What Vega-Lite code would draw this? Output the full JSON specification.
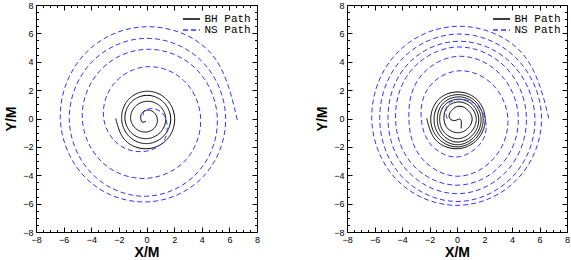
{
  "$schema": "https://vega.github.io/schema/vega-lite/v6.json",
  "padding": {"left": 4, "top": 0, "right": 0, "bottom": 0},
  "config": {
    "view": {"stroke": "#000000", "strokeWidth": 1},
    "axis": {"grid": false, "domain": false, "tickColor": "#000000", "tickWidth": 1, "labelColor": "#000000", "titleColor": "#000000", "labelFont": "Liberation Sans", "labelFontSize": 9, "titleFont": "Liberation Sans", "titleFontSize": 14, "titleFontWeight": "bold", "labelFlush": false, "labelOverlap": false, "labelBound": false},
    "legend": {"labelFont": "Liberation Mono", "labelFontSize": 11, "labelColor": "#000000"}
  },
  "datasets": {
    "lns": [
      {"i":0,"x":6.57,"y":-0.1},{"i":1,"x":4.63,"y":4.63},{"i":2,"x":0,"y":6.47},{"i":3,"x":-4.51,"y":4.51},
      {"i":4,"x":-6.24,"y":0},{"i":5,"x":-4.29,"y":-4.29},{"i":6,"x":0,"y":-5.88},{"i":7,"x":4.1,"y":-4.1},
      {"i":8,"x":5.73,"y":0},{"i":9,"x":4.02,"y":4.02},{"i":10,"x":0,"y":5.65},{"i":11,"x":-3.97,"y":3.97},
      {"i":12,"x":-5.59,"y":0},{"i":13,"x":-3.92,"y":-3.92},{"i":14,"x":0,"y":-5.48},{"i":15,"x":3.75,"y":-3.75},
      {"i":16,"x":5.13,"y":0},{"i":17,"x":3.54,"y":3.54},{"i":18,"x":0,"y":4.88},{"i":19,"x":-3.37,"y":3.37},
      {"i":20,"x":-4.65,"y":0},{"i":21,"x":-3.14,"y":-3.14},{"i":22,"x":0,"y":-4.22},{"i":23,"x":2.88,"y":-2.88},
      {"i":24,"x":3.92,"y":0},{"i":25,"x":2.69,"y":2.69},{"i":26,"x":0,"y":3.65},{"i":27,"x":-2.4,"y":2.4},
      {"i":28,"x":-3.1,"y":0},{"i":29,"x":-1.91,"y":-1.91},{"i":30,"x":0,"y":-2.3},{"i":31,"x":1.3,"y":-1.5},
      {"i":32,"x":1.45,"y":-0.2},{"i":33,"x":1.0,"y":0.5},{"i":34,"x":0.3,"y":0.7},{"i":35,"x":-0.2,"y":0.45},
      {"i":36,"x":-0.15,"y":0.1}
    ],
    "lbh": [
      {"i":0,"x":-2.23,"y":0},{"i":1,"x":-1.54,"y":-1.54},{"i":2,"x":0,"y":-2.13},{"i":3,"x":1.48,"y":-1.48},
      {"i":4,"x":2.04,"y":0},{"i":5,"x":1.4,"y":1.4},{"i":6,"x":0,"y":1.92},{"i":7,"x":-1.32,"y":1.32},
      {"i":8,"x":-1.8,"y":0},{"i":9,"x":-1.26,"y":-1.26},{"i":10,"x":0,"y":-1.77},{"i":11,"x":1.24,"y":-1.24},
      {"i":12,"x":1.75,"y":0},{"i":13,"x":1.19,"y":1.19},{"i":14,"x":0,"y":1.63},{"i":15,"x":-1.13,"y":1.13},
      {"i":16,"x":-1.56,"y":0},{"i":17,"x":-1.05,"y":-1.05},{"i":18,"x":0,"y":-1.42},{"i":19,"x":0.99,"y":-0.99},
      {"i":20,"x":1.39,"y":0},{"i":21,"x":0.92,"y":0.92},{"i":22,"x":0,"y":1.21},{"i":23,"x":-0.83,"y":0.83},
      {"i":24,"x":-1.15,"y":0},{"i":25,"x":-0.74,"y":-0.74},{"i":26,"x":0,"y":-0.95},{"i":27,"x":0.62,"y":-0.62},
      {"i":28,"x":0.78,"y":0},{"i":29,"x":0.48,"y":0.48},{"i":30,"x":0,"y":0.58},{"i":31,"x":-0.35,"y":0.35},
      {"i":32,"x":-0.42,"y":0},{"i":33,"x":-0.3,"y":-0.25},{"i":34,"x":-0.05,"y":-0.2}
    ],
    "rns": [
      {"i":0,"x":6.68,"y":0},{"i":1,"x":4.67,"y":4.67},{"i":2,"x":0,"y":6.5},{"i":3,"x":-4.49,"y":4.49},
      {"i":4,"x":-6.2,"y":0},{"i":5,"x":-4.35,"y":-4.35},{"i":6,"x":0,"y":-6.12},{"i":7,"x":4.33,"y":-4.33},
      {"i":8,"x":6.15,"y":0},{"i":9,"x":4.28,"y":4.28},{"i":10,"x":0,"y":5.95},{"i":11,"x":-4.09,"y":4.09},
      {"i":12,"x":-5.62,"y":0},{"i":13,"x":-4.05,"y":-4.05},{"i":14,"x":0,"y":-5.85},{"i":15,"x":4.07,"y":-4.07},
      {"i":16,"x":5.67,"y":0},{"i":17,"x":3.92,"y":3.92},{"i":18,"x":0,"y":5.44},{"i":19,"x":-3.7,"y":3.7},
      {"i":20,"x":-5.02,"y":0},{"i":21,"x":-3.65,"y":-3.65},{"i":22,"x":0,"y":-5.3},{"i":23,"x":3.66,"y":-3.66},
      {"i":24,"x":5.05,"y":0},{"i":25,"x":3.57,"y":3.57},{"i":26,"x":0,"y":5.04},{"i":27,"x":-3.36,"y":3.36},
      {"i":28,"x":-4.47,"y":0},{"i":29,"x":-3.24,"y":-3.24},{"i":30,"x":0,"y":-4.7},{"i":31,"x":3.24,"y":-3.24},
      {"i":32,"x":4.46,"y":0},{"i":33,"x":3.13,"y":3.13},{"i":34,"x":0,"y":4.38},{"i":35,"x":-2.79,"y":2.79},
      {"i":36,"x":-3.5,"y":0},{"i":37,"x":-2.67,"y":-2.67},{"i":38,"x":0,"y":-4.07},{"i":39,"x":2.74,"y":-2.74},
      {"i":40,"x":3.7,"y":0},{"i":41,"x":2.49,"y":2.49},{"i":42,"x":0,"y":3.35},{"i":43,"x":-2.11,"y":2.11},
      {"i":44,"x":-2.6,"y":0},{"i":45,"x":-1.87,"y":-1.87},{"i":46,"x":0,"y":-2.71},{"i":47,"x":1.73,"y":-1.73},
      {"i":48,"x":2.1,"y":-0.3},{"i":49,"x":1.5,"y":0.9},{"i":50,"x":0.2,"y":1.35},{"i":51,"x":-0.7,"y":0.9},
      {"i":52,"x":-0.75,"y":0.1},{"i":53,"x":-0.45,"y":-0.1}
    ],
    "rbh": [
      {"i":0,"x":-2.2,"y":0},{"i":1,"x":-1.53,"y":-1.53},{"i":2,"x":0,"y":-2.13},{"i":3,"x":1.48,"y":-1.48},
      {"i":4,"x":2.05,"y":0},{"i":5,"x":1.39,"y":1.39},{"i":6,"x":0,"y":1.87},{"i":7,"x":-1.34,"y":1.34},
      {"i":8,"x":-1.91,"y":0},{"i":9,"x":-1.38,"y":-1.38},{"i":10,"x":0,"y":-2.0},{"i":11,"x":1.38,"y":-1.38},
      {"i":12,"x":1.9,"y":0},{"i":13,"x":1.27,"y":1.27},{"i":14,"x":0,"y":1.68},{"i":15,"x":-1.18,"y":1.18},
      {"i":16,"x":-1.67,"y":0},{"i":17,"x":-1.24,"y":-1.24},{"i":18,"x":0,"y":-1.85},{"i":19,"x":1.27,"y":-1.27},
      {"i":20,"x":1.75,"y":0},{"i":21,"x":1.16,"y":1.16},{"i":22,"x":0,"y":1.52},{"i":23,"x":-1.04,"y":1.04},
      {"i":24,"x":-1.43,"y":0},{"i":25,"x":-1.09,"y":-1.09},{"i":26,"x":0,"y":-1.66},{"i":27,"x":1.15,"y":-1.15},
      {"i":28,"x":1.58,"y":0},{"i":29,"x":1.04,"y":1.04},{"i":30,"x":0,"y":1.35},{"i":31,"x":-0.92,"y":0.92},
      {"i":32,"x":-1.26,"y":0},{"i":33,"x":-0.95,"y":-0.95},{"i":34,"x":0,"y":-1.42},{"i":35,"x":0.99,"y":-0.99},
      {"i":36,"x":1.4,"y":0},{"i":37,"x":0.9,"y":0.9},{"i":38,"x":0,"y":1.16},{"i":39,"x":-0.75,"y":0.75},
      {"i":40,"x":-0.95,"y":0},{"i":41,"x":-0.69,"y":-0.69},{"i":42,"x":0,"y":-1.0},{"i":43,"x":0.74,"y":-0.74},
      {"i":44,"x":1.1,"y":0},{"i":45,"x":0.68,"y":0.68},{"i":46,"x":0.05,"y":0.85},{"i":47,"x":-0.45,"y":0.5},
      {"i":48,"x":-0.55,"y":0.05},{"i":49,"x":-0.2,"y":-0.15},{"i":50,"x":0.1,"y":-0.05},{"i":51,"x":0.3,"y":-0.15},
      {"i":52,"x":0.3,"y":-0.7}
    ]
  },
  "hconcat": [
    {
      "width": 221, "height": 227,
      "resolve": {"axis": {"x": "independent", "y": "independent"}},
      "layer": [
        {
          "data": {"name": "lbh"},
          "mark": {"type": "line", "interpolate": "natural", "strokeWidth": 1},
          "encoding": {
            "x": {"field": "x", "type": "quantitative", "scale": {"domain": [-8, 8], "nice": false, "zero": false}, "axis": {"orient": "bottom", "values": [-8,-6,-4,-2,0,2,4,6,8], "tickSize": -5, "labelPadding": 8, "titlePadding": 1, "title": "X/M"}},
            "y": {"field": "y", "type": "quantitative", "scale": {"domain": [-8, 8], "nice": false, "zero": false}, "axis": {"orient": "left", "values": [-8,-6,-4,-2,0,2,4,6,8], "tickSize": -5, "labelPadding": 8, "title": "Y/M"}},
            "order": {"field": "i"},
            "color": {"datum": "BH Path", "scale": {"domain": ["BH Path", "NS Path"], "range": ["#000000", "#3535ff"]}, "legend": {"orient": "none", "legendX": 149.5, "legendY": 8, "title": null, "symbolType": "M-1.7,0L1.7,0", "symbolSize": 100, "symbolStrokeWidth": 1.5, "labelOffset": 7, "rowPadding": -2, "padding": 0}},
            "strokeDash": {"datum": "BH Path", "scale": {"domain": ["BH Path", "NS Path"], "range": [[1, 0], [5, 3]]}, "legend": {"orient": "none", "legendX": 149.5, "legendY": 8, "title": null, "symbolType": "M-1.7,0L1.7,0", "symbolSize": 100, "symbolStrokeWidth": 1.5, "labelOffset": 7, "rowPadding": -2, "padding": 0}}
          }
        },
        {
          "data": {"name": "lns"},
          "mark": {"type": "line", "interpolate": "natural", "strokeWidth": 1},
          "encoding": {
            "x": {"field": "x", "type": "quantitative", "axis": {"orient": "bottom", "values": [-7.5,-7,-6.5,-5.5,-5,-4.5,-3.5,-3,-2.5,-1.5,-1,-0.5,0.5,1,1.5,2.5,3,3.5,4.5,5,5.5,6.5,7,7.5], "tickSize": -2.5, "labels": false, "title": null}},
            "y": {"field": "y", "type": "quantitative", "axis": {"orient": "left", "values": [-7.5,-7,-6.5,-5.5,-5,-4.5,-3.5,-3,-2.5,-1.5,-1,-0.5,0.5,1,1.5,2.5,3,3.5,4.5,5,5.5,6.5,7,7.5], "tickSize": -2.5, "labels": false, "title": null}},
            "order": {"field": "i"},
            "color": {"datum": "NS Path"},
            "strokeDash": {"datum": "NS Path"}
          }
        },
        {
          "data": {"name": "lns"},
          "mark": {"type": "line", "strokeOpacity": 0},
          "encoding": {
            "x": {"field": "x", "type": "quantitative", "axis": {"orient": "top", "values": [-8,-6,-4,-2,0,2,4,6,8], "tickSize": -5, "labels": false, "title": null}},
            "y": {"field": "y", "type": "quantitative", "axis": {"orient": "right", "values": [-8,-6,-4,-2,0,2,4,6,8], "tickSize": -5, "labels": false, "title": null}},
            "order": {"field": "i"}
          }
        },
        {
          "data": {"name": "lns"},
          "mark": {"type": "line", "strokeOpacity": 0},
          "encoding": {
            "x": {"field": "x", "type": "quantitative", "axis": {"orient": "top", "values": [-7.5,-7,-6.5,-5.5,-5,-4.5,-3.5,-3,-2.5,-1.5,-1,-0.5,0.5,1,1.5,2.5,3,3.5,4.5,5,5.5,6.5,7,7.5], "tickSize": -2.5, "labels": false, "title": null}},
            "y": {"field": "y", "type": "quantitative", "axis": {"orient": "right", "values": [-7.5,-7,-6.5,-5.5,-5,-4.5,-3.5,-3,-2.5,-1.5,-1,-0.5,0.5,1,1.5,2.5,3,3.5,4.5,5,5.5,6.5,7,7.5], "tickSize": -2.5, "labels": false, "title": null}},
            "order": {"field": "i"}
          }
        }
      ]
    },
    {
      "width": 220, "height": 227,
      "resolve": {"axis": {"x": "independent", "y": "independent"}},
      "layer": [
        {
          "data": {"name": "rbh"},
          "mark": {"type": "line", "interpolate": "natural", "strokeWidth": 1},
          "encoding": {
            "x": {"field": "x", "type": "quantitative", "scale": {"domain": [-8, 8], "nice": false, "zero": false}, "axis": {"orient": "bottom", "values": [-8,-6,-4,-2,0,2,4,6,8], "tickSize": -5, "labelPadding": 8, "titlePadding": 1, "title": "X/M"}},
            "y": {"field": "y", "type": "quantitative", "scale": {"domain": [-8, 8], "nice": false, "zero": false}, "axis": {"orient": "left", "values": [-8,-6,-4,-2,0,2,4,6,8], "tickSize": -5, "labelPadding": 8, "title": "Y/M"}},
            "order": {"field": "i"},
            "color": {"datum": "BH Path", "scale": {"domain": ["BH Path", "NS Path"], "range": ["#000000", "#3535ff"]}, "legend": {"orient": "none", "legendX": 148.5, "legendY": 8, "title": null, "symbolType": "M-1.7,0L1.7,0", "symbolSize": 100, "symbolStrokeWidth": 1.5, "labelOffset": 7, "rowPadding": -2, "padding": 0}},
            "strokeDash": {"datum": "BH Path", "scale": {"domain": ["BH Path", "NS Path"], "range": [[1, 0], [5, 3]]}, "legend": {"orient": "none", "legendX": 148.5, "legendY": 8, "title": null, "symbolType": "M-1.7,0L1.7,0", "symbolSize": 100, "symbolStrokeWidth": 1.5, "labelOffset": 7, "rowPadding": -2, "padding": 0}}
          }
        },
        {
          "data": {"name": "rns"},
          "mark": {"type": "line", "interpolate": "natural", "strokeWidth": 1},
          "encoding": {
            "x": {"field": "x", "type": "quantitative", "axis": {"orient": "bottom", "values": [-7.5,-7,-6.5,-5.5,-5,-4.5,-3.5,-3,-2.5,-1.5,-1,-0.5,0.5,1,1.5,2.5,3,3.5,4.5,5,5.5,6.5,7,7.5], "tickSize": -2.5, "labels": false, "title": null}},
            "y": {"field": "y", "type": "quantitative", "axis": {"orient": "left", "values": [-7.5,-7,-6.5,-5.5,-5,-4.5,-3.5,-3,-2.5,-1.5,-1,-0.5,0.5,1,1.5,2.5,3,3.5,4.5,5,5.5,6.5,7,7.5], "tickSize": -2.5, "labels": false, "title": null}},
            "order": {"field": "i"},
            "color": {"datum": "NS Path"},
            "strokeDash": {"datum": "NS Path"}
          }
        },
        {
          "data": {"name": "rns"},
          "mark": {"type": "line", "strokeOpacity": 0},
          "encoding": {
            "x": {"field": "x", "type": "quantitative", "axis": {"orient": "top", "values": [-8,-6,-4,-2,0,2,4,6,8], "tickSize": -5, "labels": false, "title": null}},
            "y": {"field": "y", "type": "quantitative", "axis": {"orient": "right", "values": [-8,-6,-4,-2,0,2,4,6,8], "tickSize": -5, "labels": false, "title": null}},
            "order": {"field": "i"}
          }
        },
        {
          "data": {"name": "rns"},
          "mark": {"type": "line", "strokeOpacity": 0},
          "encoding": {
            "x": {"field": "x", "type": "quantitative", "axis": {"orient": "top", "values": [-7.5,-7,-6.5,-5.5,-5,-4.5,-3.5,-3,-2.5,-1.5,-1,-0.5,0.5,1,1.5,2.5,3,3.5,4.5,5,5.5,6.5,7,7.5], "tickSize": -2.5, "labels": false, "title": null}},
            "y": {"field": "y", "type": "quantitative", "axis": {"orient": "right", "values": [-7.5,-7,-6.5,-5.5,-5,-4.5,-3.5,-3,-2.5,-1.5,-1,-0.5,0.5,1,1.5,2.5,3,3.5,4.5,5,5.5,6.5,7,7.5], "tickSize": -2.5, "labels": false, "title": null}},
            "order": {"field": "i"}
          }
        }
      ]
    }
  ],
  "spacing": 90,
  "bounds": "flush",
  "resolve": {"scale": {"color": "independent", "strokeDash": "independent"}, "legend": {"color": "independent", "strokeDash": "independent"}}
}
